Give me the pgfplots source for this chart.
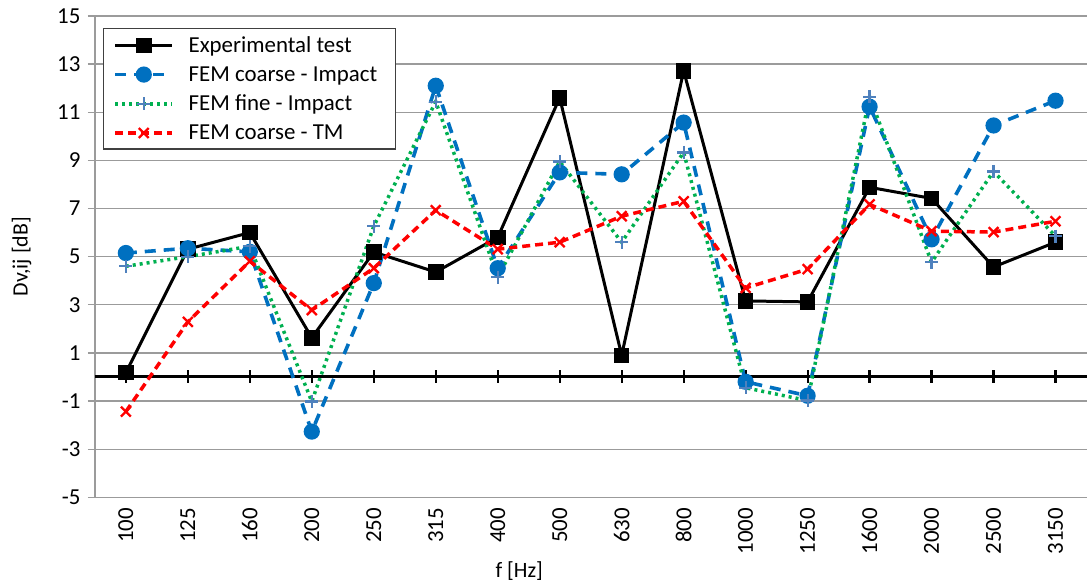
\documentclass[border=0pt]{standalone}
\usepackage{pgfplots}
\pgfplotsset{compat=1.18}
\usepackage{fontspec}
\setmainfont{Carlito}
\definecolor{cblue}{RGB}{0,112,192}
\definecolor{cplus}{RGB}{79,129,189}
\definecolor{cgreen}{RGB}{0,176,80}
\definecolor{cred}{RGB}{255,0,0}
\definecolor{cgrid}{RGB}{155,155,155}
\begin{document}
\begin{tikzpicture}
\begin{axis}[
  name=ax,
  scale only axis, width=993bp, height=482bp,
  xmin=-0.5, xmax=15.5, ymin=-5, ymax=15,
  axis y line*=left, axis x line*=bottom,
  x axis line style={draw=none},
  y axis line style={draw=cgrid, line width=1.3bp, -},
  ytick={-5,-3,...,15},
  yticklabels={-5,-3,-1,1,3,5,7,9,11,13,15},
  ymajorgrids, grid style={cgrid, line width=1.3bp},
  tick align=outside, major tick length=7bp,
  y tick style={cgrid, line width=1.3bp},
  y tick label style={xshift=-4bp},
  xtick={0,...,15},
  xticklabels={100,125,160,200,250,315,400,500,630,800,1000,1250,1600,2000,2500,3150},
  x tick style={draw=none},
  x tick label style={rotate=90, anchor=east},
  tick label style={font=\fontsize{23}{27}\selectfont},
  xlabel={f [Hz]}, ylabel={Dv,ij [dB]},
  label style={font=\fontsize{22}{26}\selectfont},
  xlabel style={at={(axis description cs:0.428,-0.153)}, anchor=center},
  ylabel style={at={(axis description cs:-0.074,0.5)}, anchor=center},
  clip=false,
  legend style={at={(0.008,0.975)}, anchor=north west, draw=black!75, line width=1.3bp, fill=white,
    font=\fontsize{23}{27}\selectfont, row sep=8.5bp, inner xsep=6bp, inner ysep=6bp},
  legend cell align=left,
  legend image code/.code={\path (-0.15cm,0) (2.45cm,0); \draw[mark repeat=2,mark phase=2] plot coordinates {(0cm,0cm)(1cm,0cm)(2cm,0cm)};},
]
\addplot[black, line width=3bp, forget plot] coordinates {(-0.5,0) (15.5,0)};
\addplot[only marks, black, mark=|, mark size=6.5bp, mark options={line width=2.2bp}, forget plot]
  coordinates {(0,0)(1,0)(2,0)(3,0)(4,0)(5,0)(6,0)(7,0)(8,0)(9,0)(10,0)(11,0)(12,0)(13,0)(14,0)(15,0)};

\addplot[black, line width=3bp, mark=square*, mark size=6.3bp, mark options={solid}] coordinates {
(0,0.18)(1,5.31)(2,6.0)(3,1.63)(4,5.19)(5,4.36)(6,5.8)(7,11.6)(8,0.9)(9,12.72)(10,3.16)(11,3.12)(12,7.88)(13,7.42)(14,4.57)(15,5.6)};
\addlegendentry{Experimental test}

\addplot[cblue, line width=3.6bp, dash pattern=on 11bp off 8bp, mark=*, mark size=6.3bp, mark options={solid, fill=cblue}] coordinates {
(0,5.15)(1,5.35)(2,5.2)(3,-2.27)(4,3.9)(5,12.1)(6,4.52)(7,8.5)(8,8.42)(9,10.57)(10,-0.2)(11,-0.78)(12,11.23)(13,5.72)(14,10.45)(15,11.48)};
\addlegendentry{FEM coarse - Impact\hspace*{10bp}}

\addplot[cgreen, line width=3.5bp, dash pattern=on 3bp off 4bp, mark=+, mark size=6.5bp, mark options={solid, draw=cplus, line width=2.2bp}] coordinates {
(0,4.6)(1,5.0)(2,5.43)(3,-1.02)(4,6.26)(5,11.44)(6,4.15)(7,8.95)(8,5.6)(9,9.33)(10,-0.45)(11,-0.98)(12,11.65)(13,4.77)(14,8.54)(15,5.85)};
\addlegendentry{FEM fine - Impact}

\addplot[cred, line width=3.5bp, dash pattern=on 8bp off 5bp, mark=x, mark size=7bp, mark options={solid, line width=2.4bp}] coordinates {
(0,-1.44)(1,2.29)(2,4.81)(3,2.78)(4,4.52)(5,6.93)(6,5.31)(7,5.6)(8,6.68)(9,7.3)(10,3.7)(11,4.48)(12,7.17)(13,6.06)(14,6.02)(15,6.47)};
\addlegendentry{FEM coarse - TM}
\end{axis}
\path ([shift={(-95bp,-85bp)}]ax.south west) rectangle ([shift={(0bp,16bp)}]ax.north east);
\end{tikzpicture}
\end{document}
